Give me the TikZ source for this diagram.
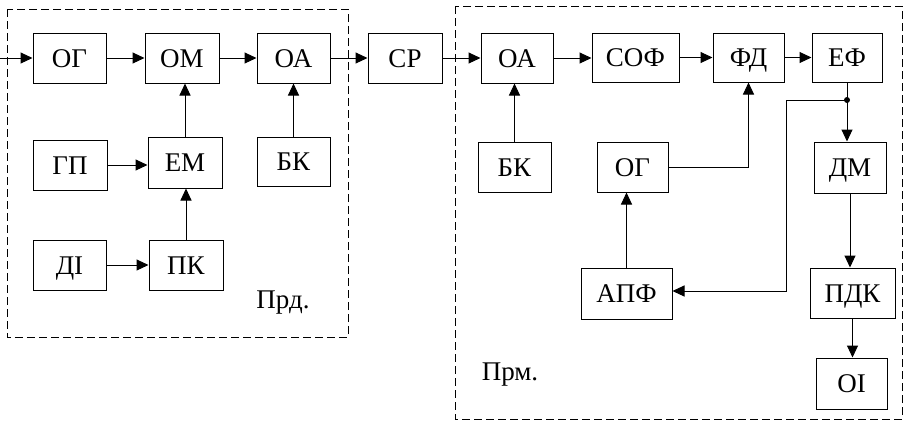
\documentclass[tikz,border=0pt]{standalone}
\usepackage{fontspec}
\setmainfont{Liberation Serif}
\usetikzlibrary{arrows.meta}
\begin{document}
\begin{tikzpicture}[x=1pt,y=-1pt,
  blk/.style={draw, line width=1pt, inner sep=0pt, text height=18pt, text depth=0pt, font=\fontsize{27}{27}\selectfont},
  arr/.style={-{Triangle[length=12pt,width=11pt]}, line width=1pt},
  ln/.style={line width=1pt},
  frame/.style={dash pattern=on 8pt off 4pt, line width=1pt},
  lbl/.style={font=\fontsize{27}{27}\selectfont, inner sep=0pt}]
\useasboundingbox (0,0) rectangle (905,424);
\newcommand\bx[6]{\node[blk, minimum width=#4pt, minimum height=#5pt] (#1) at (#2,#3) {#6};}
% frames
\draw[frame] (7,9) rectangle (348,337);
\draw[frame] (455,6) rectangle (902,419);
% transmitter
\bx{ogA}{69.5}{58}{73}{50}{ОГ}
\bx{om}{182}{58}{74}{50}{ОМ}
\bx{oaA}{293.5}{58}{73}{50}{ОА}
\bx{gp}{70}{165}{74}{50}{ГП}
\bx{em}{185}{162.5}{74}{51}{ЕМ}
\bx{bkA}{293.5}{161.5}{73}{49}{БК}
\bx{di}{69.5}{265}{73}{50}{ДІ}
\bx{pk}{186}{265}{74}{50}{ПК}
% channel
\bx{sr}{405}{58}{74}{50}{СР}
% receiver
\bx{oaB}{517}{58}{72}{50}{ОА}
\bx{sof}{635.5}{57.5}{87}{49}{СОФ}
\bx{fd}{748.5}{57.5}{71}{49}{ФД}
\bx{ef}{847}{57.5}{70}{49}{ЕФ}
\bx{bkB}{514.5}{167}{73}{50}{БК}
\bx{ogB}{632.5}{167}{71}{50}{ОГ}
\bx{dm}{850}{167.5}{72}{51}{ДМ}
\bx{apf}{626.5}{293.5}{91}{51}{АПФ}
\bx{pdk}{852.5}{293}{85}{50}{ПДК}
\bx{oi}{851.5}{383.5}{71}{51}{ОІ}
\node[lbl] (prd) at (283,303) {Прд.};
\node[lbl] (prm) at (510,375) {Прм.};
% connectors
\coordinate (in) at (0,58);
\draw[arr] (in) -- (ogA.west);
\draw[arr] (ogA) -- (om);
\draw[arr] (om) -- (oaA);
\draw[arr] (oaA) -- (sr);
\draw[arr] (sr) -- (oaB);
\draw[arr] (oaB.east) -- (oaB.east -| sof.west);
\draw[arr] (sof) -- (fd);
\draw[arr] (fd) -- (ef);
\draw[arr] (gp.east) -- (gp.east -| em.west);
\draw[arr] (em.north) -- (em.north |- om.south);
\draw[arr] (pk.north) -- (pk.north |- em.south);
\draw[arr] (di) -- (pk);
\draw[arr] (bkA) -- (oaA);
\draw[arr] (bkB.north) -- (bkB.north |- oaB.south);
\draw[arr] (apf.north) -- (apf.north |- ogB.south);
\draw[arr] (ogB.east) -- (fd.south |- ogB.east) -- (fd.south);
\coordinate (j) at (847,100);
\coordinate (k) at (786,100);
\coordinate (l) at (786,291);
\draw[ln] (ef.south) -- (j);
\draw[arr] (j) -- (j |- dm.north);
\draw[arr] (j) -- (k) -- (l) -- (l -| apf.east);
\fill (j) circle (3pt);
\draw[arr] (dm.south) -- (dm.south |- pdk.north);
\draw[arr] (pdk.south) -- (pdk.south |- oi.north);
\end{tikzpicture}
\end{document}
